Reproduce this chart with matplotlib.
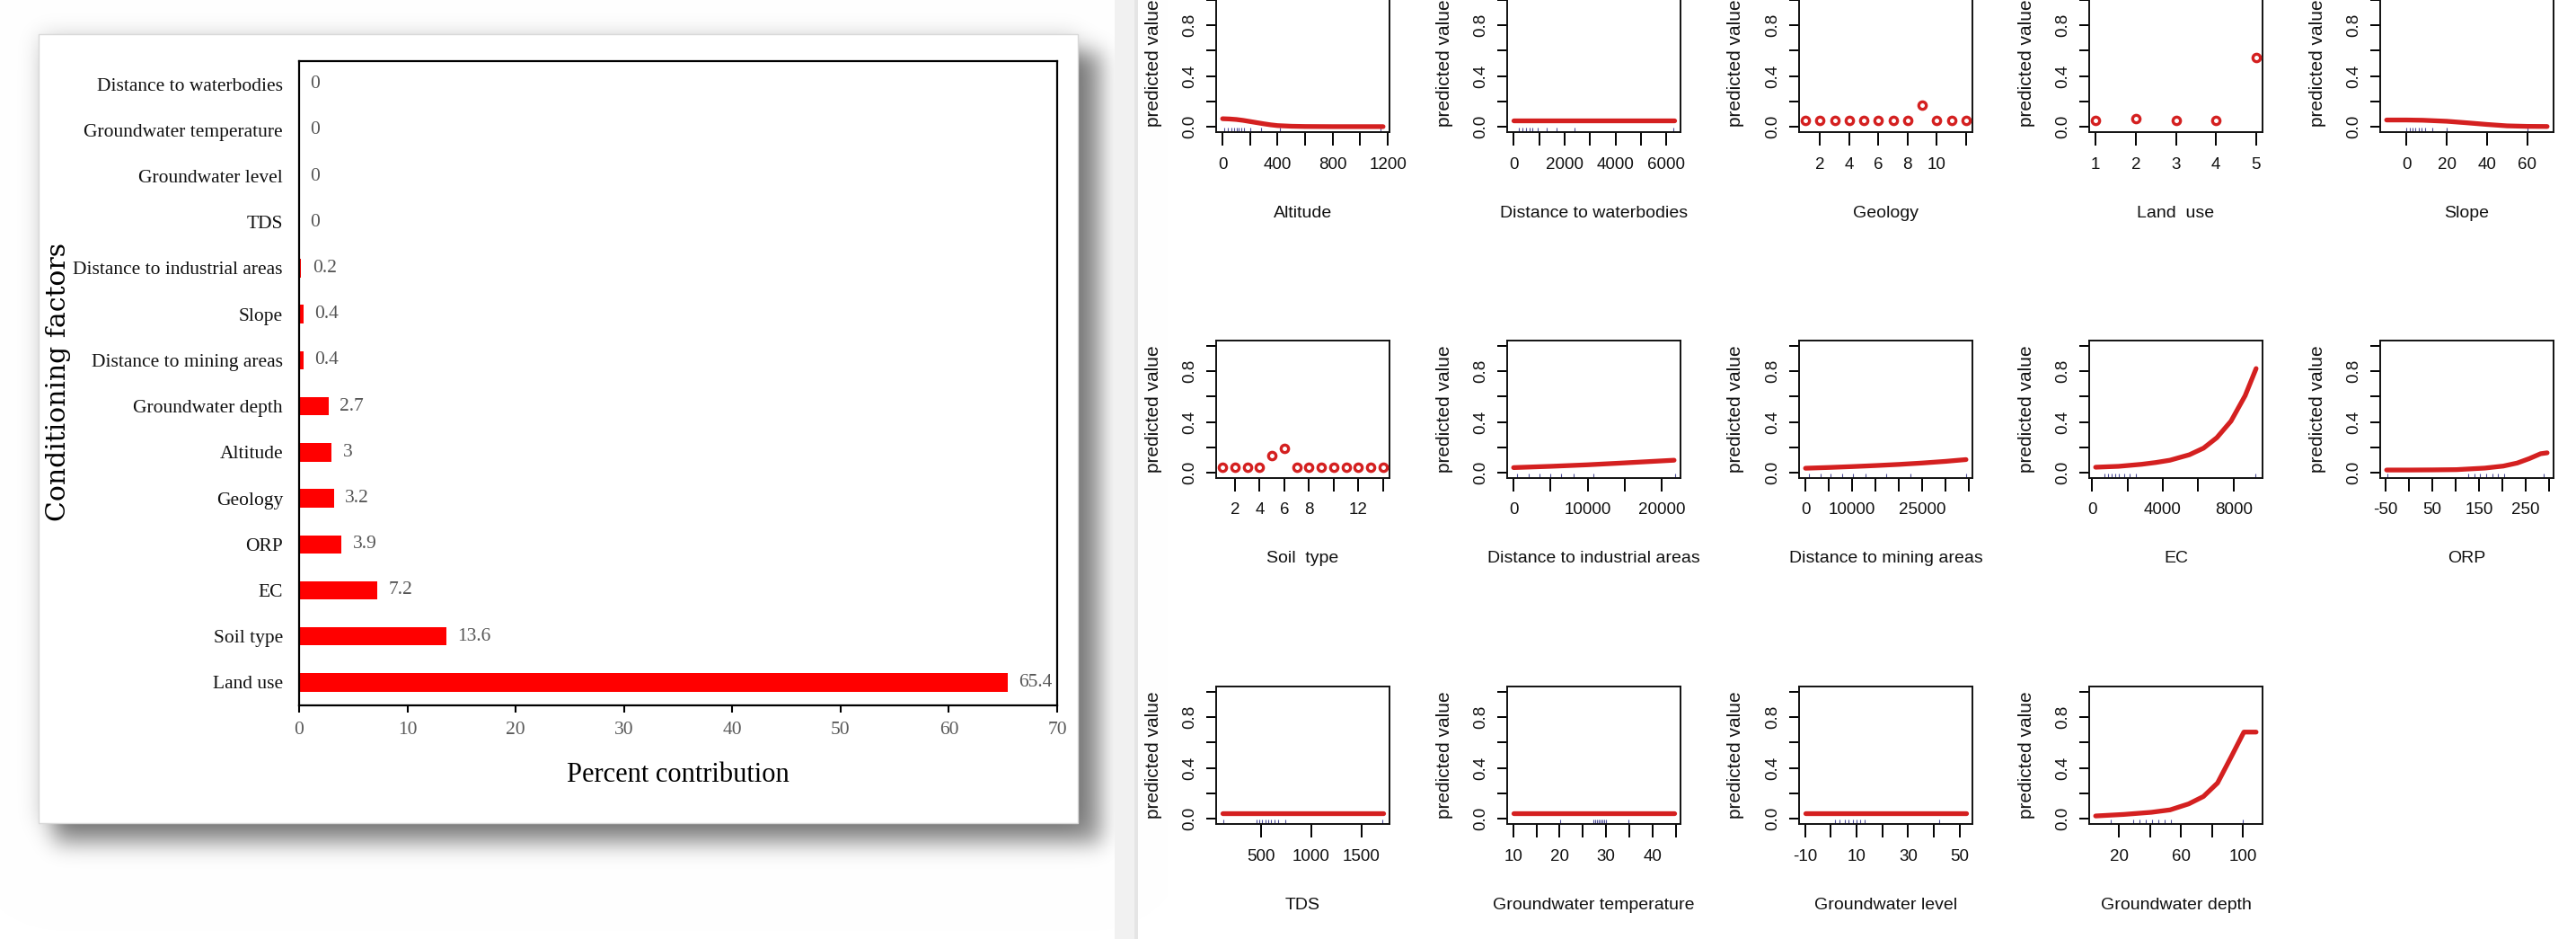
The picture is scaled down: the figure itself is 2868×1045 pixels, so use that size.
import math
import numpy as np
import matplotlib
matplotlib.use("Agg")
import matplotlib.pyplot as plt
from matplotlib.patches import Rectangle

W, H = 2868, 1045
DPI = 100

# ---------------- Left panel data ----------------
factors = ["Distance to waterbodies", "Groundwater temperature", "Groundwater level", "TDS",
           "Distance to industrial areas", "Slope", "Distance to mining areas", "Groundwater depth",
           "Altitude", "Geology", "ORP", "EC", "Soil type", "Land use"]
contribution = [0, 0, 0, 0, 0.2, 0.4, 0.4, 2.7, 3, 3.2, 3.9, 7.2, 13.6, 65.4]
contrib_ticks = [0, 10, 20, 30, 40, 50, 60, 70]

# ---------------- Right panel data (partial dependence) ----------------
alt_x = [0, 50, 100, 150, 200, 250, 300, 350, 400, 500, 600, 800, 1000, 1166]
alt_y = [0.065, 0.063, 0.059, 0.052, 0.043, 0.034, 0.025, 0.017, 0.011, 0.006, 0.004, 0.003, 0.003, 0.003]
alt_rug = [11, 37, 63, 86, 102, 119, 136, 158, 201, 279, 415, 1146]
alt_ticks = [0, 200, 400, 600, 800, 1000, 1200]
alt_labels = ["0", "", "400", "", "800", "", "1200"]

dw_x = [0, 6300]
dw_y = [0.05, 0.05]
dw_rug = [200, 340, 475, 615, 750, 960, 1300, 1700, 2390, 6280]
dw_ticks = [0, 1000, 2000, 3000, 4000, 5000, 6000]
dw_labels = ["0", "", "2000", "", "4000", "", "6000"]

geo_x = [1, 2, 3, 4, 5, 6, 7, 8, 9, 10, 11, 12]
geo_y = [0.05, 0.05, 0.05, 0.05, 0.05, 0.05, 0.05, 0.05, 0.17, 0.05, 0.05, 0.05]
geo_ticks = [2, 4, 6, 8, 10, 12]
geo_labels = ["2", "4", "6", "8", "10", ""]

lu_x = [1, 2, 3, 4, 5]
lu_y = [0.05, 0.065, 0.05, 0.05, 0.545]
lu_ticks = [1, 2, 3, 4, 5]
lu_labels = ["1", "2", "3", "4", "5"]

sl_x = [-10, 0, 8, 20, 30, 40, 50, 60, 70]
sl_y = [0.055, 0.055, 0.053, 0.045, 0.033, 0.02, 0.009, 0.005, 0.004]
sl_rug = [0, 1.5, 2.9, 4.4, 6, 7.4, 9.3, 12.6, 20, 60]
sl_ticks = [0, 20, 40, 60]
sl_labels = ["0", "20", "40", "60"]

soil_x = [1, 2, 3, 4, 5, 6, 7, 8, 9, 10, 11, 12, 13, 14]
soil_y = [0.047, 0.047, 0.047, 0.047, 0.136, 0.19, 0.047, 0.047, 0.047, 0.047, 0.047, 0.047, 0.047, 0.047]
soil_ticks = [2, 4, 6, 8, 10, 12, 14]
soil_labels = ["2", "4", "6", "8", "", "12", ""]

di_x = [0, 5000, 10000, 15000, 21700]
di_y = [0.042, 0.052, 0.064, 0.079, 0.10]
di_rug = [500, 2000, 3500, 4900, 6400, 8150, 10800, 21800]
di_ticks = [0, 5000, 10000, 15000, 20000]
di_labels = ["0", "", "10000", "", "20000"]

dm_x = [0, 5000, 10000, 15000, 20000, 25000, 30000, 34400]
dm_y = [0.037, 0.043, 0.05, 0.058, 0.067, 0.078, 0.091, 0.105]
dm_rug = [800, 3200, 5400, 7800, 10200, 12800, 17200, 22400, 34400]
dm_ticks = [0, 5000, 10000, 15000, 20000, 25000, 30000, 35000]
dm_labels = ["0", "", "10000", "", "", "25000", "", ""]

ec_x = [200, 1500, 2800, 3600, 4400, 5500, 6300, 7050, 7850, 8650, 9270]
ec_y = [0.045, 0.052, 0.068, 0.082, 0.10, 0.143, 0.195, 0.277, 0.407, 0.607, 0.82]
ec_rug = [700, 900, 1100, 1300, 1500, 1800, 2100, 2500, 9250]
ec_ticks = [0, 2000, 4000, 6000, 8000]
ec_labels = ["0", "", "4000", "", "8000"]

orp_x = [-48, 0, 50, 102, 162, 202, 232, 258, 282, 296]
orp_y = [0.023, 0.023, 0.024, 0.026, 0.038, 0.054, 0.078, 0.113, 0.151, 0.158]
orp_rug = [-46, 126, 140, 152, 165, 178, 190, 203, 288]
orp_ticks = [-50, 0, 50, 100, 150, 200, 250, 300]
orp_labels = ["-50", "", "50", "", "150", "", "250", ""]

tds_x = [120, 1717]
tds_y = [0.047, 0.047]
tds_rug = [132, 454, 485, 515, 545, 575, 604, 634, 674, 745, 1706]
tds_ticks = [500, 1000, 1500]
tds_labels = ["500", "1000", "1500"]

gt_x = [10.1, 44.6]
gt_y = [0.047, 0.047]
gt_rug = [20.2, 27.2, 27.6, 28.0, 28.4, 28.8, 29.2, 29.6, 30.0, 34.8]
gt_ticks = [10, 15, 20, 25, 30, 35, 40, 45]
gt_labels = ["10", "", "20", "", "30", "", "40", ""]

gl_x = [-9.8, 52.5]
gl_y = [0.047, 0.047]
gl_rug = [1.5, 3.5, 5.5, 7, 8.5, 10, 11.5, 13, 42]
gl_ticks = [-10, 0, 10, 20, 30, 40, 50]
gl_labels = ["-10", "", "10", "", "30", "", "50"]

gd_x = [4.9, 23, 41, 53, 65, 74.5, 83.6, 92.7, 100.6, 108.5]
gd_y = [0.023, 0.035, 0.052, 0.071, 0.118, 0.176, 0.282, 0.494, 0.682, 0.682]
gd_rug = [14.5, 29, 33.2, 37, 41.2, 45.4, 49.7, 53.3, 100]
gd_ticks = [20, 40, 60, 80, 100]
gd_labels = ["20", "", "60", "", "100"]

pd_yticks = [0, 0.2, 0.4, 0.6, 0.8, 1.0]
pd_ylabels = ["0.0", "", "0.4", "", "0.8", ""]

panels = [
    ("Altitude", "line", alt_x, alt_y, alt_rug, alt_ticks, alt_labels),
    ("Distance to waterbodies", "line", dw_x, dw_y, dw_rug, dw_ticks, dw_labels),
    ("Geology", "points", geo_x, geo_y, None, geo_ticks, geo_labels),
    ("Land  use", "points", lu_x, lu_y, None, lu_ticks, lu_labels),
    ("Slope", "line", sl_x, sl_y, sl_rug, sl_ticks, sl_labels),
    ("Soil  type", "points", soil_x, soil_y, None, soil_ticks, soil_labels),
    ("Distance to industrial areas", "line", di_x, di_y, di_rug, di_ticks, di_labels),
    ("Distance to mining areas", "line", dm_x, dm_y, dm_rug, dm_ticks, dm_labels),
    ("EC", "line", ec_x, ec_y, ec_rug, ec_ticks, ec_labels),
    ("ORP", "line", orp_x, orp_y, orp_rug, orp_ticks, orp_labels),
    ("TDS", "line", tds_x, tds_y, tds_rug, tds_ticks, tds_labels),
    ("Groundwater temperature", "line", gt_x, gt_y, gt_rug, gt_ticks, gt_labels),
    ("Groundwater level", "line", gl_x, gl_y, gl_rug, gl_ticks, gl_labels),
    ("Groundwater depth", "line", gd_x, gd_y, gd_rug, gd_ticks, gd_labels),
]

# ---------------- Figure ----------------
fig = plt.figure(figsize=(W / DPI, H / DPI), dpi=DPI, facecolor="white")


def px_axes(left, top, width, height, **kw):
    return fig.add_axes([left / W, 1 - (top + height) / H, width / W, height / H], **kw)


# background layer (shadow, white card, grey divider)
ax_bg = fig.add_axes([0, 0, 1, 1], zorder=-5)
ax_bg.set_xlim(0, W)
ax_bg.set_ylim(H, 0)
ax_bg.axis("off")


def erf_vec(a):
    return np.array([math.erf(v) for v in a])


def box_blur(xs, ys, x0, x1, y0, y1, s):
    k = s * math.sqrt(2)
    fx = 0.5 * (erf_vec((xs - x0) / k) - erf_vec((xs - x1) / k))
    fy = 0.5 * (erf_vec((ys - y0) / k) - erf_vec((ys - y1) / k))
    return np.outer(fy, fx)


SW = 1300
xs = np.arange(SW) + 0.5
ys = np.arange(H) + 0.5
dark = box_blur(xs, ys, 60, 1226, 58, 938, 12)
halo = box_blur(xs, ys, 43, 1200, 38, 916, 12)
dd = np.clip(0.45 * dark + 0.15 * halo, 0, 1)
img = np.dstack([1 - dd] * 3)
ax_bg.imshow(img, extent=[0, SW, H, 0], aspect="auto", interpolation="bilinear", zorder=0)
ax_bg.add_patch(Rectangle((43, 38), 1200 - 43, 916 - 38, facecolor="white",
                          edgecolor="#d9d9d9", lw=1.0, zorder=1))
ax_bg.add_patch(Rectangle((1241, 0), 26, H, facecolor="#f1f1f1", edgecolor="none", zorder=1))
ax_bg.add_patch(Rectangle((1263, 0), 4, H, facecolor="#e5e5e5", edgecolor="none", zorder=1))

# ---------------- Left bar chart ----------------
SERIF = ["Liberation Serif", "DejaVu Serif"]
ax = px_axes(333, 68, 1177 - 333, 785 - 68, zorder=2)
ypos = np.arange(len(factors))
ax.barh(ypos, contribution, height=0.4, color="#ff0000", edgecolor="none")
ax.set_ylim(len(factors) - 0.5, -0.5)
ax.set_xlim(contrib_ticks[0], contrib_ticks[-1])
ax.set_xticks(contrib_ticks)
ax.set_xticklabels([str(t) for t in contrib_ticks], family=SERIF)
ax.set_yticks(ypos)
ax.set_yticklabels(factors, family=SERIF)
ax.tick_params(axis="y", length=0, pad=13, labelsize=15.5, labelcolor="#111111")
ax.tick_params(axis="x", direction="out", length=5.8, width=1.5, pad=7,
               labelsize=15.5, labelcolor="#5a5a5a")
for sp in ax.spines.values():
    sp.set_linewidth(1.6)
    sp.set_color("black")
for i, v in enumerate(contribution):
    ax.annotate(f"{v:g}", (v, i), xytext=(9, 0), textcoords="offset points",
                ha="left", va="center", fontsize=15.5, color="#555555", family=SERIF)

fig.text(755 / W, 1 - 863 / H, "Percent contribution", ha="center", va="center",
         fontsize=22, family=SERIF, color="black")
fig.text(65 / W, 1 - 425 / H, "Conditioning factors", ha="center", va="center",
         rotation=90, fontsize=21.5, family=["DejaVu Serif"], color="black")

# ---------------- Right partial dependence grid ----------------
SANS = ["Liberation Sans", "DejaVu Sans"]
RED = "#d42020"
RUG = "#4d4d99"
col_left = [1354, 1678, 2003, 2326, 2650]
row_top = [-6, 379, 764]
PW, PH = 193, 153

for k, (name, kind, x, y, rug, ticks, labels) in enumerate(panels):
    r, c = divmod(k, 5)
    a = px_axes(col_left[c], row_top[r], PW, PH, zorder=2)
    xa = np.asarray(x, float)
    lo, hi = xa.min(), xa.max()
    pad = 0.04 * (hi - lo)
    a.set_xlim(lo - pad, hi + pad)
    a.set_ylim(-0.04, 1.04)
    if kind == "line":
        a.plot(x, y, color=RED, lw=3.8, solid_capstyle="round", zorder=3)
    else:
        a.plot(x, y, "o", ms=6.0, mfc="none", mec=RED, mew=2.4, zorder=3)
    if rug:
        a.vlines(rug, 0, 0.03, transform=a.get_xaxis_transform(), color=RUG, lw=0.8, zorder=2)
    a.set_xticks(ticks)
    a.set_xticklabels(labels, family=SANS)
    a.set_yticks(pd_yticks)
    a.set_yticklabels(pd_ylabels, family=SANS, rotation=90, va="center")
    a.tick_params(axis="x", direction="out", length=10.8, width=1.4, pad=9,
                  labelsize=13.5, labelcolor="#111111")
    a.tick_params(axis="y", direction="out", length=7.9, width=1.4, pad=7,
                  labelsize=13.5, labelcolor="#111111")
    for sp in a.spines.values():
        sp.set_linewidth(1.4)
        sp.set_color("#111111")
    a.text(0.5, -90 / PH, name, transform=a.transAxes, ha="center", va="center",
           fontsize=14, family=SANS, color="#111111")
    a.text(-70 / PW, 0.5, "predicted value", transform=a.transAxes, ha="center",
           va="center", rotation=90, fontsize=15, family=SANS, color="#111111")

fig.savefig("out.png", dpi=DPI, facecolor="white")
